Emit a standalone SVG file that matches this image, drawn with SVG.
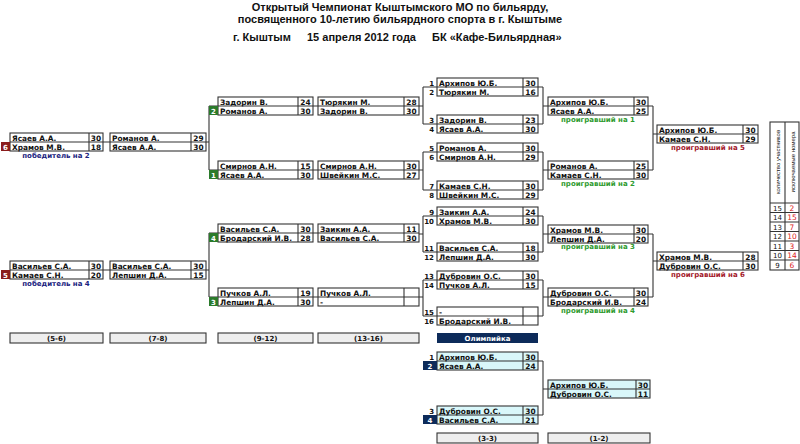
<svg xmlns="http://www.w3.org/2000/svg" width="800" height="444" viewBox="0 0 800 444">
<style>
text{font-family:"DejaVu Sans","Liberation Sans",sans-serif;font-weight:bold;font-size:7.4px;fill:#111}
.b{fill:#fff;stroke:#333;stroke-width:1.1}
.c{fill:#d9f7fa;stroke:#333;stroke-width:1.1}
.l{stroke:#333;stroke-width:1.1;fill:none}
.s{text-anchor:middle}
.n{text-anchor:end;font-size:7px}
.gb{fill:#2b7a2b}.rb{fill:#8a1c1c}.nb{fill:#0d2b5a}
.w{fill:#fff;text-anchor:middle;font-size:7px}
.lab{text-anchor:middle;font-size:7px}
.g{fill:#2e9a2e}.r{fill:#a3182a}.v{fill:#1a237e}
.h{font-family:"Liberation Sans",Arial,sans-serif;font-size:11px;text-anchor:middle}
.h2{font-family:"Liberation Sans",Arial,sans-serif;font-size:11px}
.bt{fill:#eee;stroke:#333;stroke-width:1.1}
.tb{font-weight:normal;font-size:7px;text-anchor:middle}
.tv{font-family:"Liberation Sans",Arial,sans-serif;font-weight:normal;font-size:6px;text-anchor:middle}
.tr{font-weight:normal;font-size:7.5px;text-anchor:middle;fill:#d22}
</style>
<g id="title">
<text class="h" x="400" y="11">Открытый Чемпионат Кыштымского МО по бильярду,</text>
<text class="h" x="400" y="23">посвященного 10-летию бильярдного спорта в г. Кыштыме</text>
<text class="h2" x="233" y="41">г. Кыштым</text>
<text class="h2" x="307" y="41">15 апреля 2012 года</text>
<text class="h2" x="432" y="41">БК «Кафе-Бильярдная»</text>
</g>
<g id="connectors">
<path class="l" d="M103 142H110M103 270H110M206 142H209M209 106V170M209 106H218M209 170H218M206 270H209M209 233V297M209 233H218M209 297H218"/>
<path class="l" d="M313 106H318M313 170H318M313 233H318M313 297H318"/>
<path class="l" d="M419 106H423M423 87V124M423 87H437M423 124H437M419 170H423M423 152V190M423 152H437M423 190H437M419 234H423M423 216V252M423 216H437M423 252H437M419 297H423M423 280V316M423 280H437M423 316H437"/>
<path class="l" d="M538 87H543M543 87V124M538 124H543M543 106H548M538 152H543M543 152V190M538 190H543M543 170H548M538 216H543M543 216V252M538 252H543M543 234H548M538 280H543M543 280V316M538 316H543M543 297H548"/>
<path class="l" d="M648 106H653M653 106V170M648 170H653M653 134H657M648 234H653M653 234V297M648 297H653M653 261H657"/>
<path class="l" d="M538 361H543M543 361V415M538 415H543M543 389H548"/>
</g>
<g id="m56a"><rect class="b" x="10" y="133" width="93" height="18"/><path class="l" d="M10 142H103M89 133V151"/><text x="12" y="140.5">Ясаев А.А.</text><text class="s" x="96" y="140.5">30</text><text x="12" y="149.5">Храмов М.В.</text><text class="s" x="96" y="149.5">18</text><rect class="rb" x="1" y="142" width="9" height="9"/><text class="w" x="5.5" y="149.5">6</text><text class="lab v" x="56" y="158">победитель на 2</text></g>
<g id="m78a"><rect class="b" x="110" y="133" width="96" height="18"/><path class="l" d="M110 142H206M191 133V151"/><text x="112" y="140.5">Романов А.</text><text class="s" x="198.5" y="140.5">29</text><text x="112" y="149.5">Ясаев А.А.</text><text class="s" x="198.5" y="149.5">30</text></g>
<g id="m56b"><rect class="b" x="10" y="261" width="93" height="18"/><path class="l" d="M10 270H103M89 261V279"/><text x="12" y="268.5">Васильев С.А.</text><text class="s" x="96" y="268.5">30</text><text x="12" y="277.5">Камаев С.Н.</text><text class="s" x="96" y="277.5">20</text><rect class="rb" x="1" y="270" width="9" height="9"/><text class="w" x="5.5" y="277.5">5</text><text class="lab v" x="56" y="286">победитель на 4</text></g>
<g id="m78b"><rect class="b" x="110" y="261" width="96" height="18"/><path class="l" d="M110 270H206M191 261V279"/><text x="112" y="268.5">Васильев С.А.</text><text class="s" x="198.5" y="268.5">30</text><text x="112" y="277.5">Лепшин Д.А.</text><text class="s" x="198.5" y="277.5">15</text></g>
<g id="m912a"><rect class="b" x="218" y="97" width="95" height="18"/><path class="l" d="M218 106H313M298 97V115"/><text x="220" y="104.5">Задорин В.</text><text class="s" x="305.5" y="104.5">24</text><text x="220" y="113.5">Романов А.</text><text class="s" x="305.5" y="113.5">30</text><rect class="gb" x="209" y="106" width="9" height="9"/><text class="w" x="213.5" y="113.5">2</text></g>
<g id="m912b"><rect class="b" x="218" y="161" width="95" height="18"/><path class="l" d="M218 170H313M298 161V179"/><text x="220" y="168.5">Смирнов А.Н.</text><text class="s" x="305.5" y="168.5">15</text><text x="220" y="177.5">Ясаев А.А.</text><text class="s" x="305.5" y="177.5">30</text><rect class="gb" x="209" y="170" width="9" height="9"/><text class="w" x="213.5" y="177.5">1</text></g>
<g id="m912c"><rect class="b" x="218" y="224" width="95" height="18"/><path class="l" d="M218 233H313M298 224V242"/><text x="220" y="231.5">Васильев С.А.</text><text class="s" x="305.5" y="231.5">30</text><text x="220" y="240.5">Бродарский И.В.</text><text class="s" x="305.5" y="240.5">28</text><rect class="gb" x="209" y="233" width="9" height="9"/><text class="w" x="213.5" y="240.5">4</text></g>
<g id="m912d"><rect class="b" x="218" y="288" width="95" height="18"/><path class="l" d="M218 297H313M298 288V306"/><text x="220" y="295.5">Пучков А.Л.</text><text class="s" x="305.5" y="295.5">19</text><text x="220" y="304.5">Лепшин Д.А.</text><text class="s" x="305.5" y="304.5">30</text><rect class="gb" x="209" y="297" width="9" height="9"/><text class="w" x="213.5" y="304.5">3</text></g>
<g id="m1316a"><rect class="b" x="318" y="97" width="101" height="18"/><path class="l" d="M318 106H419M404 97V115"/><text x="320" y="104.5">Тюрякин М.</text><text class="s" x="411.5" y="104.5">28</text><text x="320" y="113.5">Задорин В.</text><text class="s" x="411.5" y="113.5">30</text></g>
<g id="m1316b"><rect class="b" x="318" y="161" width="101" height="18"/><path class="l" d="M318 170H419M404 161V179"/><text x="320" y="168.5">Смирнов А.Н.</text><text class="s" x="411.5" y="168.5">30</text><text x="320" y="177.5">Швейкин М.С.</text><text class="s" x="411.5" y="177.5">27</text></g>
<g id="m1316c"><rect class="b" x="318" y="224" width="101" height="18"/><path class="l" d="M318 233H419M404 224V242"/><text x="320" y="231.5">Заикин А.А.</text><text class="s" x="411.5" y="231.5">11</text><text x="320" y="240.5">Васильев С.А.</text><text class="s" x="411.5" y="240.5">30</text></g>
<g id="m1316d"><rect class="b" x="318" y="288" width="101" height="18"/><path class="l" d="M318 297H419M404 288V306"/><text x="320" y="295.5">Пучков А.Л.</text><text x="320" y="304.5">-</text></g>
<g id="r1a"><rect class="b" x="437" y="78" width="101" height="18"/><path class="l" d="M437 87H538M523 78V96"/><text class="n" x="434" y="85.5">1</text><text x="439" y="85.5">Архипов Ю.Б.</text><text class="s" x="530.5" y="85.5">30</text><text class="n" x="434" y="94.5">2</text><text x="439" y="94.5">Тюрякин М.</text><text class="s" x="530.5" y="94.5">16</text></g>
<g id="r1b"><rect class="b" x="437" y="115" width="101" height="18"/><path class="l" d="M437 124H538M523 115V133"/><text class="n" x="434" y="122.5">3</text><text x="439" y="122.5">Задорин В.</text><text class="s" x="530.5" y="122.5">23</text><text class="n" x="434" y="131.5">4</text><text x="439" y="131.5">Ясаев А.А.</text><text class="s" x="530.5" y="131.5">30</text></g>
<g id="r1c"><rect class="b" x="437" y="143" width="101" height="18"/><path class="l" d="M437 152H538M523 143V161"/><text class="n" x="434" y="150.5">5</text><text x="439" y="150.5">Романов А.</text><text class="s" x="530.5" y="150.5">30</text><text class="n" x="434" y="159.5">6</text><text x="439" y="159.5">Смирнов А.Н.</text><text class="s" x="530.5" y="159.5">29</text></g>
<g id="r1d"><rect class="b" x="437" y="181" width="101" height="18"/><path class="l" d="M437 190H538M523 181V199"/><text class="n" x="434" y="188.5">7</text><text x="439" y="188.5">Камаев С.Н.</text><text class="s" x="530.5" y="188.5">30</text><text class="n" x="434" y="197.5">8</text><text x="439" y="197.5">Швейкин М.С.</text><text class="s" x="530.5" y="197.5">29</text></g>
<g id="r1e"><rect class="b" x="437" y="207" width="101" height="18"/><path class="l" d="M437 216H538M523 207V225"/><text class="n" x="434" y="214.5">9</text><text x="439" y="214.5">Заикин А.А.</text><text class="s" x="530.5" y="214.5">24</text><text class="n" x="434" y="223.5">10</text><text x="439" y="223.5">Храмов М.В.</text><text class="s" x="530.5" y="223.5">30</text></g>
<g id="r1f"><rect class="b" x="437" y="243" width="101" height="18"/><path class="l" d="M437 252H538M523 243V261"/><text class="n" x="434" y="250.5">11</text><text x="439" y="250.5">Васильев С.А.</text><text class="s" x="530.5" y="250.5">18</text><text class="n" x="434" y="259.5">12</text><text x="439" y="259.5">Лепшин Д.А.</text><text class="s" x="530.5" y="259.5">30</text></g>
<g id="r1g"><rect class="b" x="437" y="271" width="101" height="18"/><path class="l" d="M437 280H538M523 271V289"/><text class="n" x="434" y="278.5">13</text><text x="439" y="278.5">Дубровин О.С.</text><text class="s" x="530.5" y="278.5">30</text><text class="n" x="434" y="287.5">14</text><text x="439" y="287.5">Пучков А.Л.</text><text class="s" x="530.5" y="287.5">15</text></g>
<g id="r1h"><rect class="b" x="437" y="307" width="101" height="18"/><path class="l" d="M437 316H538M523 307V325"/><text class="n" x="434" y="314.5">15</text><text x="439" y="314.5">-</text><text class="n" x="434" y="323.5">16</text><text x="439" y="323.5">Бродарский И.В.</text></g>
<g id="r2a"><rect class="b" x="548" y="97" width="100" height="18"/><path class="l" d="M548 106H648M634 97V115"/><text x="550" y="104.5">Архипов Ю.Б.</text><text class="s" x="641" y="104.5">30</text><text x="550" y="113.5">Ясаев А.А.</text><text class="s" x="641" y="113.5">25</text><text class="lab g" x="598" y="122">проигравший на 1</text></g>
<g id="r2b"><rect class="b" x="548" y="161" width="100" height="18"/><path class="l" d="M548 170H648M634 161V179"/><text x="550" y="168.5">Романов А.</text><text class="s" x="641" y="168.5">25</text><text x="550" y="177.5">Камаев С.Н.</text><text class="s" x="641" y="177.5">30</text><text class="lab g" x="598" y="186">проигравший на 2</text></g>
<g id="r2c"><rect class="b" x="548" y="225" width="100" height="18"/><path class="l" d="M548 234H648M634 225V243"/><text x="550" y="232.5">Храмов М.В.</text><text class="s" x="641" y="232.5">30</text><text x="550" y="241.5">Лепшин Д.А.</text><text class="s" x="641" y="241.5">20</text><text class="lab g" x="598" y="249">проигравший на 3</text></g>
<g id="r2d"><rect class="b" x="548" y="288" width="100" height="18"/><path class="l" d="M548 297H648M634 288V306"/><text x="550" y="295.5">Дубровин О.С.</text><text class="s" x="641" y="295.5">30</text><text x="550" y="304.5">Бродарский И.В.</text><text class="s" x="641" y="304.5">24</text><text class="lab g" x="598" y="313">проигравший на 4</text></g>
<g id="r3a"><rect class="b" x="657" y="125" width="101" height="18"/><path class="l" d="M657 134H758M743 125V143"/><text x="659" y="132.5">Архипов Ю.Б.</text><text class="s" x="750.5" y="132.5">30</text><text x="659" y="141.5">Камаев С.Н.</text><text class="s" x="750.5" y="141.5">29</text><text class="lab r" x="708" y="150">проигравший на 5</text></g>
<g id="r3b"><rect class="b" x="657" y="252" width="101" height="18"/><path class="l" d="M657 261H758M743 252V270"/><text x="659" y="259.5">Храмов М.В.</text><text class="s" x="750.5" y="259.5">28</text><text x="659" y="268.5">Дубровин О.С.</text><text class="s" x="750.5" y="268.5">30</text><text class="lab r" x="708" y="277">проигравший на 6</text></g>
<g id="table"><rect class="b" x="770" y="122" width="29" height="148"/><path class="l" d="M785 122V270M770 203H799M770 212.5H799M770 222H799M770 231.5H799M770 241H799M770 250.5H799M770 260H799"/>
<text class="tv" transform="translate(779.5 162) rotate(-90)">количество участников</text><text class="tv" transform="translate(794.5 162) rotate(-90)">исключаемые номера</text>
<text class="tb" x="777.5" y="210.5">15</text><text class="tr" x="792" y="210.5">2</text>
<text class="tb" x="777.5" y="220">14</text><text class="tr" x="792" y="220">15</text>
<text class="tb" x="777.5" y="229.5">13</text><text class="tr" x="792" y="229.5">7</text>
<text class="tb" x="777.5" y="239">12</text><text class="tr" x="792" y="239">10</text>
<text class="tb" x="777.5" y="248.5">11</text><text class="tr" x="792" y="248.5">3</text>
<text class="tb" x="777.5" y="258">10</text><text class="tr" x="792" y="258">14</text>
<text class="tb" x="777.5" y="267.5">9</text><text class="tr" x="792" y="267.5">6</text></g>
<g id="places"><rect class="bt" x="10" y="333" width="93" height="10"/><text class="lab" x="56.5" y="341">(5-6)</text><rect class="bt" x="110" y="333" width="96" height="10"/><text class="lab" x="158" y="341">(7-8)</text><rect class="bt" x="218" y="333" width="95" height="10"/><text class="lab" x="265.5" y="341">(9-12)</text><rect class="bt" x="318" y="333" width="101" height="10"/><text class="lab" x="368.5" y="341">(13-16)</text><rect class="nb" x="437" y="333" width="101" height="10"/><text class="w" x="487.5" y="341">Олимпийка</text><rect class="bt" x="437" y="433" width="101" height="10"/><text class="lab" x="487.5" y="441">(3-3)</text><rect class="bt" x="548" y="433" width="102" height="10"/><text class="lab" x="599" y="441">(1-2)</text></g>
<g id="o1"><rect class="c" x="437" y="352" width="101" height="18"/><path class="l" d="M437 361H538M523 352V370"/><text class="n" x="434" y="359.5">1</text><text x="439" y="359.5">Архипов Ю.Б.</text><text class="s" x="530.5" y="359.5">30</text><rect class="nb" x="423" y="361" width="14" height="9"/><text class="w" x="430" y="368.5">2</text><text x="439" y="368.5">Ясаев А.А.</text><text class="s" x="530.5" y="368.5">24</text></g>
<g id="o2"><rect class="c" x="437" y="406" width="101" height="18"/><path class="l" d="M437 415H538M523 406V424"/><text class="n" x="434" y="413.5">3</text><text x="439" y="413.5">Дубровин О.С.</text><text class="s" x="530.5" y="413.5">30</text><rect class="nb" x="423" y="415" width="14" height="9"/><text class="w" x="430" y="422.5">4</text><text x="439" y="422.5">Васильев С.А.</text><text class="s" x="530.5" y="422.5">21</text></g>
<g id="final"><rect class="c" x="548" y="380" width="102" height="18"/><path class="l" d="M548 389H650M636 380V398"/><text x="550" y="387.5">Архипов Ю.Б.</text><text class="s" x="643" y="387.5">30</text><text x="550" y="396.5">Дубровин О.С.</text><text class="s" x="643" y="396.5">11</text></g>
</svg>
